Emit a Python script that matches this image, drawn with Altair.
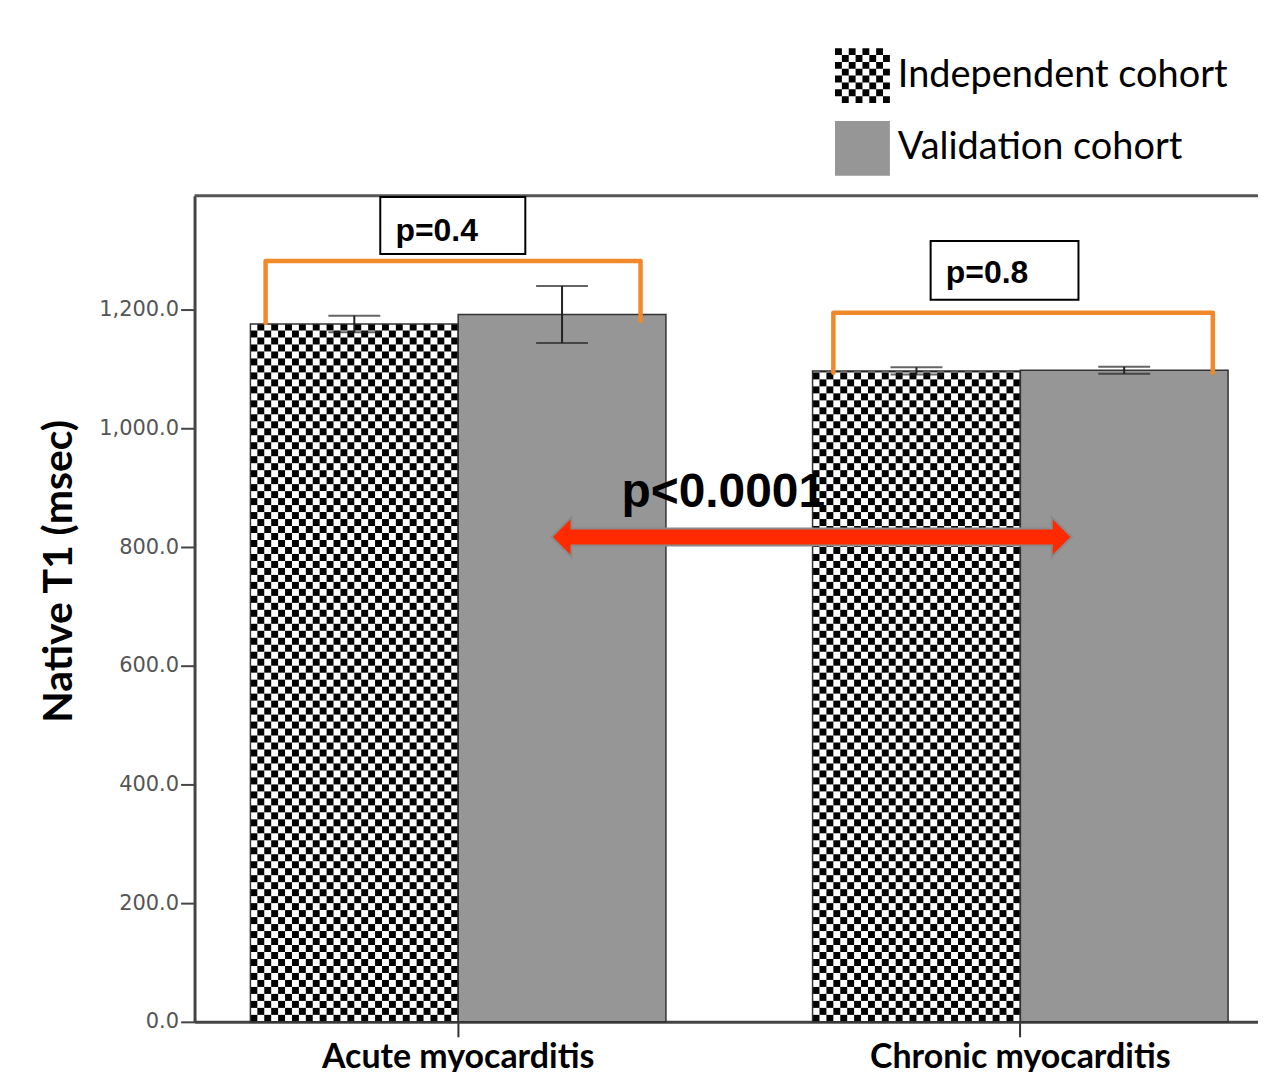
import altair as alt
import pandas as pd

# ---------------- data ----------------
categories = ["Acute myocarditis", "Chronic myocarditis"]
cohorts = ["Independent cohort", "Validation cohort"]
independent_mean = [1176, 1097]
independent_err = [14, 6]
validation_mean = [1192, 1098]
validation_err = [48, 6]

y_ticks = [0, 200, 400, 600, 800, 1000, 1200]
Y_MAX = 1392

# annotations (x in group-step units: 0 = left edge of first group, 1 = left edge of second group)
bracket_names = ["acute", "chronic"]
bracket_x_left = [0.027, 1.037]
bracket_x_right = [0.694, 1.712]
bracket_y_top = [1282, 1195]
bracket_y_left_end = [1178, 1094]
bracket_y_right_end = [1181, 1094]

pbox_text = ["p=0.4", "p=0.8"]
pbox_x = [0.231, 1.210]
pbox_x2 = [0.489, 1.473]
pbox_y = [1294, 1217]
pbox_y2 = [1390, 1316]
ptext_x = [0.258, 1.237]
ptext_y = [1333, 1262]

main_p_text = ["p<0.0001"]
main_p_x = [0.660]
main_p_y = [891]
arrow_x = [0.5356, 1.461]
arrow_y = [817]

# ---------------- layout / style ----------------
GRAY = "#969696"
ORANGE = "#F0892A"
RED = "#FF2A00"
W, H = 1066, 828
T_START, T_STEP, T_BW = 56.0, 563.5, 416.5   # band geometry in px
P_INNER = 1 - T_BW / T_STEP
P_OUTER = (W / T_STEP - (2 - P_INNER)) / 2
ALIGN = T_START / (W - T_STEP * (2 - P_INNER))
step = W / (2 - P_INNER + 2 * P_OUTER)
start = (W - step * (2 - P_INNER)) * ALIGN
v_domain = [-start / step, (W - start) / step]
half = (1 - P_INNER) / 2
NCOL = 30
CELL_H = 7 * Y_MAX / H
HEAD_V = 20 / step

rows = []
for i, c in enumerate(categories):
    rows.append(dict(category=c, cohort=cohorts[0], cat_idx=i, mean=independent_mean[i],
                     lo=independent_mean[i] - independent_err[i], hi=independent_mean[i] + independent_err[i]))
    rows.append(dict(category=c, cohort=cohorts[1], cat_idx=i, mean=validation_mean[i],
                     lo=validation_mean[i] - validation_err[i], hi=validation_mean[i] + validation_err[i]))
bars = pd.DataFrame(rows)

brk = []
for j, n in enumerate(bracket_names):
    pts = [(bracket_x_left[j], bracket_y_left_end[j]), (bracket_x_left[j], bracket_y_top[j]),
           (bracket_x_right[j], bracket_y_top[j]), (bracket_x_right[j], bracket_y_right_end[j])]
    for k, (bx, by) in enumerate(pts):
        brk.append(dict(name=n, k=k, bx=bx, by=by))
brackets_df = pd.DataFrame(brk)

boxes_df = pd.DataFrame(dict(text=pbox_text, x=pbox_x, x2=pbox_x2, y=pbox_y, y2=pbox_y2, tx=ptext_x, ty=ptext_y))
mainp_df = pd.DataFrame(dict(text=main_p_text, x=main_p_x, y=main_p_y))
arrow_df = pd.DataFrame(dict(x=[arrow_x[0]], x2=[arrow_x[1]], y=arrow_y,
                             sx=[arrow_x[0] + HEAD_V * 0.8], sx2=[arrow_x[1] - HEAD_V * 0.8]))
top_df = pd.DataFrame(dict(top=[Y_MAX]))

# ---------------- scales / axes ----------------
xband = alt.Scale(domain=categories, paddingInner=P_INNER, paddingOuter=P_OUTER, align=ALIGN, round=False)
xoff = alt.Scale(domain=cohorts, paddingInner=0, paddingOuter=0)
xlin = alt.Scale(domain=v_domain, nice=False, zero=False)
yscale = alt.Scale(domain=[0, Y_MAX], nice=False, zero=True)

xaxis = alt.Axis(title=None, labelFont="Lato", labelFontWeight="bold", labelFontSize=34, labelColor="black",
                 labelPadding=4, labelLimit=600, tickSize=15, tickWidth=2, tickColor="#333",
                 domainColor="#444", domainWidth=3, grid=False, labelAngle=0)
yaxis = alt.Axis(title="Native T1 (msec)", values=y_ticks, format=",.1f", labelFont="DejaVu Sans",
                 labelFontSize=21, labelColor="#555", labelPadding=2, tickSize=14, tickWidth=2,
                 tickColor="#444", domainColor="#444", domainWidth=3, grid=False,
                 titleFont="Lato", titleFontSize=41, titleFontWeight="bold", titleColor="black",
                 titleX=-135, titleY=376, titleBaseline="middle", titleAlign="center", titleAngle=270)


def Yq(field):
    return alt.Y(field, type="quantitative", scale=yscale, axis=yaxis)


def Xl(field):
    return alt.X(field, type="quantitative", scale=xlin, axis=None)


base = alt.Chart(bars)

bars_fill = base.mark_bar(strokeWidth=0).encode(
    x=alt.X("category:N", scale=xband, axis=xaxis),
    xOffset=alt.XOffset("cohort:N", scale=xoff),
    y=Yq("mean"),
    fill=alt.when(alt.datum.cohort == cohorts[0]).then(alt.value("white")).otherwise(alt.value(GRAY)),
)

checker = (
    base.transform_filter(alt.datum.cohort == cohorts[0])
    .transform_calculate(col=f"sequence(0, {NCOL})")
    .transform_flatten(["col"])
    .transform_calculate(row=f"sequence(0, ceil(datum.mean / {CELL_H}))")
    .transform_flatten(["row"])
    .transform_filter("(datum.col + datum.row) % 2 == 0")
    .transform_calculate(
        cx=f"datum.cat_idx + datum.col * {half / NCOL}",
        cx2=f"datum.cat_idx + (datum.col + 1) * {half / NCOL}",
        cy=f"datum.row * {CELL_H}",
        cy2=f"min((datum.row + 1) * {CELL_H}, datum.mean)",
    )
    .mark_rect(color="black", strokeWidth=0)
    .encode(x=Xl("cx"), x2="cx2:Q", y=Yq("cy"), y2="cy2:Q")
)

outline = base.mark_bar(fillOpacity=0, stroke="#333", strokeWidth=1.5).encode(
    x=alt.X("category:N", scale=xband, axis=None),
    xOffset=alt.XOffset("cohort:N", scale=xoff),
    y=Yq("mean"),
)

err_rule = base.mark_rule(color="#222", strokeWidth=2).encode(
    x=alt.X("category:N", scale=xband, axis=None),
    xOffset=alt.XOffset("cohort:N", scale=xoff),
    y=Yq("lo"), y2="hi:Q",
)
cap_lo = base.mark_tick(color="#222", size=52, thickness=2).encode(
    x=alt.X("category:N", scale=xband, axis=None),
    xOffset=alt.XOffset("cohort:N", scale=xoff),
    y=Yq("lo"),
)
cap_hi = base.mark_tick(color="#222", size=52, thickness=2).encode(
    x=alt.X("category:N", scale=xband, axis=None),
    xOffset=alt.XOffset("cohort:N", scale=xoff),
    y=Yq("hi"),
)

top_rule = alt.Chart(top_df).mark_rule(color="#555", strokeWidth=3).encode(y=Yq("top"))

brackets = alt.Chart(brackets_df).mark_line(color=ORANGE, strokeWidth=4.5, strokeJoin="round",
                                             strokeCap="round").encode(
    x=Xl("bx"), y=Yq("by"), detail="name:N", order="k:Q",
)

boxes = alt.Chart(boxes_df).mark_rect(fill="white", stroke="black", strokeWidth=2).encode(
    x=Xl("x"), x2="x2:Q", y=Yq("y"), y2="y2:Q",
)
box_text = alt.Chart(boxes_df).mark_text(align="left", baseline="middle", font="Liberation Sans",
                                         fontWeight="bold", fontSize=32, color="black").encode(
    x=Xl("tx"), y=Yq("ty"), text="text:N",
)

shaft_bg = alt.Chart(arrow_df).mark_rule(color="#8a8a8a", strokeWidth=19).encode(
    x=Xl("sx"), x2="sx2:Q", y=Yq("y"),
)
head_l = alt.Chart(arrow_df).mark_point(shape="M0,0L1,-1L1,1Z", size=1600, filled=True, fill=RED,
                                         stroke="#8a8a8a", strokeWidth=2, opacity=1).encode(
    x=Xl("x"), y=Yq("y"),
)
head_r = alt.Chart(arrow_df).mark_point(shape="M0,0L-1,-1L-1,1Z", size=1600, filled=True, fill=RED,
                                         stroke="#8a8a8a", strokeWidth=2, opacity=1).encode(
    x=Xl("x2"), y=Yq("y"),
)
shaft = alt.Chart(arrow_df).mark_rule(color=RED, strokeWidth=15).encode(
    x=Xl("sx"), x2="sx2:Q", y=Yq("y"),
)

main_p = alt.Chart(mainp_df).mark_text(align="left", baseline="middle", font="Liberation Sans",
                                       fontWeight="bold", fontSize=48, color="black").encode(
    x=Xl("x"), y=Yq("y"), text="text:N",
)

# legend (checker swatch as custom symbol path)
cells = []
for r in range(8):
    for c in range(8):
        if (r + c) % 2 == 0:
            x0 = -1 + c * 0.25
            y0 = -1 + r * 0.25
            cells.append(f"M{x0:.2f},{y0:.2f}h0.25v0.25h-0.25Z")
checker_path = "".join(cells)

leg = alt.Legend(title=None, orient="none", legendX=642, legendY=-148, symbolSize=3025,
                 symbolStrokeWidth=0, labelFont="Lato", labelFontSize=38, labelColor="black",
                 labelLimit=600, rowPadding=18, labelOffset=8, padding=0)
legend_layer = base.transform_filter("datum.mean < 0").mark_point(filled=True, opacity=1).encode(
    color=alt.Color("cohort:N", scale=alt.Scale(domain=cohorts, range=["#000000", GRAY]), legend=leg),
    shape=alt.Shape("cohort:N", scale=alt.Scale(domain=cohorts, range=[checker_path, "square"]), legend=leg),
)

chart = (
    alt.layer(bars_fill, checker, outline, err_rule, cap_lo, cap_hi, top_rule, brackets, boxes, box_text,
              shaft_bg, head_l, head_r, shaft, main_p, legend_layer)
    .resolve_scale(x="independent", xOffset="independent")
    .properties(width=W, height=H,
                padding={"left": 187, "top": 187, "right": 0, "bottom": 49},
                autosize=alt.AutoSizeParams(type="none"))
    .configure_view(stroke=None)
)

chart.save("out.html", embed_options={"renderer": "svg", "actions": False})
